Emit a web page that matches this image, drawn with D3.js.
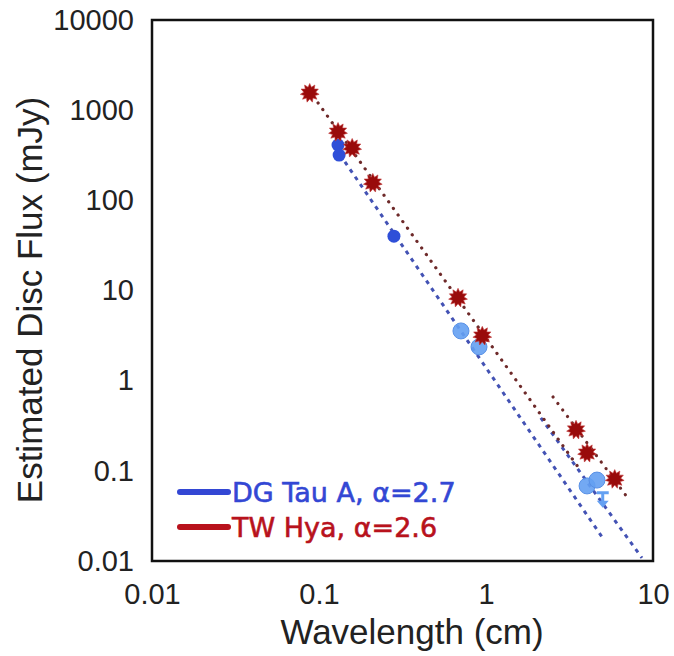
<!DOCTYPE html>
<html>
<head>
<meta charset="utf-8">
<script src="https://cdn.jsdelivr.net/npm/d3@7"></script>
<style>
  body { margin: 0; background: #fff; }
</style>
</head>
<body>
<div id="chart-area"></div>
<script>
// tick labels
const xTicks = [0.01, 0.1, 1, 10];
const xTickLabels = ["0.01", "0.1", "1", "10"];
const yTicks = [0.01, 0.1, 1, 10, 100, 1000, 10000];
const yTickLabels = ["0.01", "0.1", "1", "10", "100", "1000", "10000"];

// TW Hya (stars): wavelength (cm), flux (mJy)
const twWave = [0.088, 0.130, 0.158, 0.21, 0.68, 0.95, 3.46, 4.03, 5.9];
const twFlux = [1550, 573, 381, 156, 8.3, 3.14, 0.285, 0.158, 0.081];

// DG Tau A (mm points dark, cm points light)
const dgWave = [0.130, 0.132, 0.281];
const dgFlux = [411, 318, 40];
const dgWaveCm = [0.708, 0.908, 4.03, 4.62];
const dgFluxCm = [3.56, 2.37, 0.068, 0.079];
const dgLimWave = [5.0];
const dgLimFlux = [0.057];

// fitted power laws, endpoints [wavelength, flux]
const dgFitAll = [[0.143, 267], [4.95, 0.0185]];
const dgFitCm = [[2.13, 0.387], [8.59, 0.0108]];
const twFitAll = [[0.0987, 1203], [3.66, 0.1026]];
const twFitCm = [[2.52, 0.66], [6.98, 0.0515]];

const legendNames = ["DG Tau A, α=2.7", "TW Hya, α=2.6"];
const legendColors = ["#3347d4", "#b8121c"];

let margin = { left: 152, right: 21, top: 20, bottom: 95 };
let width = 674 - margin.left - margin.right;
let height = 656 - margin.top - margin.bottom;

let svg = d3.select("#chart-area")
  .append("svg")
  .attr("width", 674)
  .attr("height", 656);

let g = svg.append("g")
  .attr("transform", "translate(" + margin.left + "," + margin.top + ")");

let x = d3.scaleLog().domain([0.01, 10]).range([0, width]);
let y = d3.scaleLog().domain([0.01, 10000]).range([height, 0]);

// axes (labels only)
let xAxisCall = d3.axisBottom(x)
  .tickValues(xTicks)
  .tickSize(0)
  .tickPadding(22)
  .tickFormat((d, i) => xTickLabels[i]);
let xa = g.append("g")
  .attr("transform", "translate(0," + height + ")")
  .call(xAxisCall);
xa.select(".domain").remove();
xa.selectAll("text")
  .style("font-size", "29px")
  .style("font-family", "Liberation Sans, Arial, sans-serif")
  .attr("fill", "#222")
  .attr("dy", "0.71em");

let yAxisCall = d3.axisLeft(y)
  .tickValues(yTicks)
  .tickSize(0)
  .tickPadding(18)
  .tickFormat((d, i) => yTickLabels[i]);
let ya = g.append("g").call(yAxisCall);
ya.select(".domain").remove();
ya.selectAll("text")
  .style("font-size", "29px")
  .style("font-family", "Liberation Sans, Arial, sans-serif")
  .attr("fill", "#222");

// axis titles
g.append("text")
  .attr("x", 260)
  .attr("y", height + 83)
  .style("font-size", "35px")
  .style("font-family", "Liberation Sans, Arial, sans-serif")
  .attr("text-anchor", "middle")
  .attr("fill", "#222")
  .text("Wavelength (cm)");

g.append("text")
  .attr("transform", "rotate(-90)")
  .attr("x", -280)
  .attr("y", -110)
  .style("font-size", "35px")
  .style("font-family", "Liberation Sans, Arial, sans-serif")
  .attr("text-anchor", "middle")
  .attr("fill", "#222")
  .text("Estimated Disc Flux (mJy)");

// fit lines
let line = d3.line().x(d => x(d[0])).y(d => y(d[1]));

g.append("path").attr("d", line(dgFitAll))
  .attr("fill", "none").attr("stroke", "#4352b4").attr("stroke-width", 3)
  .attr("stroke-dasharray", "4 5");
g.append("path").attr("d", line(dgFitCm))
  .attr("fill", "none").attr("stroke", "#4352b4").attr("stroke-width", 3)
  .attr("stroke-dasharray", "4 5");
g.append("path").attr("d", line(twFitAll))
  .attr("fill", "none").attr("stroke", "#6e2a2a").attr("stroke-width", 3.2)
  .attr("stroke-linecap", "round")
  .attr("stroke-dasharray", "0.1 8");
g.append("path").attr("d", line(twFitCm))
  .attr("fill", "none").attr("stroke", "#6e2a2a").attr("stroke-width", 3.2)
  .attr("stroke-linecap", "round")
  .attr("stroke-dasharray", "0.1 8");

// DG Tau points
g.selectAll(".dg")
  .data(dgWave.map((w, i) => [w, dgFlux[i]]))
  .enter().append("circle")
  .attr("cx", d => x(d[0]))
  .attr("cy", d => y(d[1]))
  .attr("r", 6.5)
  .attr("fill", "#2f4fd8");

g.selectAll(".dgcm")
  .data(dgWaveCm.map((w, i) => [w, dgFluxCm[i]]))
  .enter().append("circle")
  .attr("cx", d => x(d[0]))
  .attr("cy", d => y(d[1]))
  .attr("r", 8)
  .attr("fill", "#64a0f2")
  .attr("fill-opacity", 0.9)
  .attr("stroke", "#5890e6")
  .attr("stroke-width", 1);

// upper limit marker
let lim = g.selectAll(".lim")
  .data(dgLimWave.map((w, i) => [w, dgLimFlux[i]]))
  .enter().append("g")
  .attr("transform", d => "translate(" + x(d[0]) + "," + y(d[1]) + ")");
lim.append("path")
  .attr("d", "M-6,0 L6,0 M0,0 L0,10")
  .attr("stroke", "#64a0f2").attr("stroke-width", 3).attr("fill", "none");
lim.append("path")
  .attr("d", "M-6,8 L6,8 L0,15 Z")
  .attr("fill", "#64a0f2");

// TW Hya stars
function starPath(n, r1, r2) {
  let pts = [];
  for (let i = 0; i < 2 * n; i++) {
    let a = Math.PI * i / n - Math.PI / 2;
    let r = i % 2 === 0 ? r1 : r2;
    pts.push([r * Math.cos(a), r * Math.sin(a)]);
  }
  return "M" + pts.map(p => p[0].toFixed(2) + "," + p[1].toFixed(2)).join("L") + "Z";
}
g.selectAll(".tw")
  .data(twWave.map((w, i) => [w, twFlux[i]]))
  .enter().append("path")
  .attr("transform", d => "translate(" + x(d[0]) + "," + y(d[1]) + ")")
  .attr("d", starPath(11, 9.5, 6))
  .attr("fill", "#990b0b")
  .attr("stroke", "#c23a3a")
  .attr("stroke-width", 0.6);

// legend
let leg = g.selectAll(".leg")
  .data(legendNames)
  .enter().append("g")
  .attr("transform", (d, i) => "translate(26," + (472 + i * 35) + ")");
leg.append("line")
  .attr("x1", 2).attr("x2", 50).attr("y1", 0).attr("y2", 0)
  .attr("stroke", (d, i) => legendColors[i])
  .attr("stroke-width", 6)
  .attr("stroke-linecap", "round");
leg.append("text")
  .attr("x", 54)
  .attr("y", 10)
  .style("font-size", "27px")
  .style("font-family", "DejaVu Sans, sans-serif")
  .attr("fill", (d, i) => legendColors[i])
  .attr("stroke", (d, i) => legendColors[i])
  .attr("stroke-width", 0.6)
  .text(d => d);

// frame
g.append("rect")
  .attr("x", 0).attr("y", 0)
  .attr("width", width).attr("height", height)
  .attr("fill", "none")
  .attr("stroke", "#111")
  .attr("stroke-width", 2.5);
</script>
</body>
</html>
